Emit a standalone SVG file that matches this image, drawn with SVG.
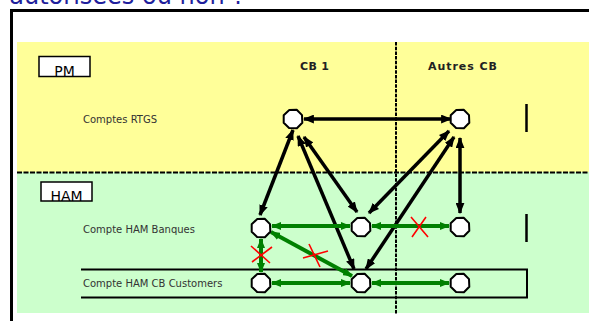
<svg xmlns="http://www.w3.org/2000/svg" width="589" height="321" viewBox="0 0 589 321">
<defs>
<style>
.lbl{font-family:"DejaVu Sans","Liberation Sans",sans-serif;font-size:10px;fill:#333}
.hdr{font-family:"DejaVu Sans","Liberation Sans",sans-serif;font-size:11px;font-weight:bold;fill:#222}
.box{fill:#fff;stroke:#000;stroke-width:1.5}
.boxt{font-family:"DejaVu Sans","Liberation Sans",sans-serif;font-size:14px;fill:#000}
.nd{fill:#fff;stroke:#000;stroke-width:2;stroke-linejoin:round}
.blk{stroke:#000;stroke-width:3.5;fill:none;marker-start:url(#ab);marker-end:url(#ab)}
.grn{stroke:#008000;stroke-width:4;fill:none;marker-start:url(#ag);marker-end:url(#ag)}
.x{stroke:#ff0000;stroke-width:1.6;fill:none}
.dash{stroke:#000;stroke-width:2;stroke-dasharray:5 1.5;fill:none}
</style>
<marker id="ab" viewBox="0 0 10 8" markerUnits="userSpaceOnUse" markerWidth="11" markerHeight="9" refX="9" refY="4" orient="auto-start-reverse">
<path d="M0,0 L10,4 L0,8 z" fill="#000"/>
</marker>
<marker id="ag" viewBox="0 0 10 8" markerUnits="userSpaceOnUse" markerWidth="10" markerHeight="8" refX="9" refY="4" orient="auto-start-reverse">
<path d="M0,0 L10,4 L0,8 z" fill="#008000"/>
</marker>
<polygon id="oct" points="3.7,-9.3 9,-3.9 9.3,3.7 3.9,9.3 -3.9,9 -9.3,3.7 -9.3,-3.7 -3.7,-9"/>
</defs>

<rect x="0" y="0" width="589" height="321" fill="#fff"/>
<text x="245" y="4" text-anchor="end" font-family="DejaVu Sans,Liberation Sans,sans-serif" font-size="24" fill="#1f1f9c">autorisées ou non ?</text>

<g id="background">
<rect x="17" y="42" width="572" height="130" fill="#ffff99"/>
<rect x="17" y="172" width="572" height="141" fill="#ccffcc"/>
<line x1="17" y1="172.5" x2="589" y2="172.5" class="dash"/>
<line x1="396" y1="42" x2="396" y2="314" stroke="#000" stroke-width="2" stroke-dasharray="3.5 1.2"/>
<path d="M11.5,330 V10.5 H600" fill="none" stroke="#000" stroke-width="3"/>
<path d="M81,269.5 H527 V297.5 H81" fill="none" stroke="#000" stroke-width="2"/>
<line x1="526.5" y1="104" x2="526.5" y2="132" stroke="#000" stroke-width="2.5"/>
<line x1="526.5" y1="214" x2="526.5" y2="242" stroke="#000" stroke-width="2.5"/>
</g>

<g id="box-pm"><rect x="39" y="56.5" width="51" height="20" class="box"/><text x="64.5" y="75.5" text-anchor="middle" class="boxt">PM</text></g>
<g id="box-ham"><rect x="41" y="182" width="51" height="19" class="box"/><text x="66.5" y="200.5" text-anchor="middle" class="boxt">HAM</text></g>

<g id="headers">
<text x="314.5" y="70" text-anchor="middle" class="hdr" textLength="29">CB 1</text>
<text x="462.5" y="70" text-anchor="middle" class="hdr" textLength="69">Autres CB</text>
<text x="83" y="123" class="lbl">Comptes RTGS</text>
<text x="83" y="233" class="lbl">Compte HAM Banques</text>
<text x="83" y="287" class="lbl">Compte HAM CB Customers</text>
</g>

<g id="connectors">
<line x1="304" y1="119" x2="451" y2="119" class="blk"/>
<line x1="293" y1="130" x2="260" y2="215" class="blk"/>
<line x1="298" y1="136" x2="354" y2="269" class="blk" stroke-width="4"/>
<line x1="304" y1="137" x2="357" y2="212" class="blk" stroke-width="3"/>
<line x1="369" y1="213" x2="449" y2="131" class="blk" stroke-width="4"/>
<line x1="366" y1="269" x2="454" y2="137" class="blk" stroke-width="3"/>
<line x1="460" y1="138" x2="460" y2="213" class="blk" stroke-width="4"/>
<line x1="272" y1="226" x2="350" y2="226" class="grn"/>
<line x1="372" y1="226" x2="449" y2="226" class="grn"/>
<line x1="261" y1="239" x2="261" y2="272" class="grn"/>
<line x1="271" y1="232" x2="352" y2="276" class="grn"/>
<line x1="272" y1="283" x2="350" y2="283" class="grn"/>
<line x1="372" y1="283" x2="449" y2="283" class="grn"/>
<path class="x" d="M411,217 L428,237 M426,217 L412,237"/>
<path class="x" d="M251,246 L270,263 M272,247 L252,262"/>
<path class="x" d="M303,258 L328,251 M309,244 L320,267"/>
</g>

<g id="node-rtgs-cb1"><use href="#oct" x="293" y="119" class="nd"/></g>
<g id="node-rtgs-autres"><use href="#oct" x="460" y="119" class="nd"/></g>
<g id="node-ham-cb1"><use href="#oct" x="261" y="228" class="nd"/></g>
<g id="node-ham-mid"><use href="#oct" x="361" y="227" class="nd"/></g>
<g id="node-ham-autres"><use href="#oct" x="460" y="227" class="nd"/></g>
<g id="node-cust-cb1"><use href="#oct" x="261" y="283" class="nd"/></g>
<g id="node-cust-mid"><use href="#oct" x="361" y="283" class="nd"/></g>
<g id="node-cust-autres"><use href="#oct" x="460" y="283" class="nd"/></g>
</svg>
